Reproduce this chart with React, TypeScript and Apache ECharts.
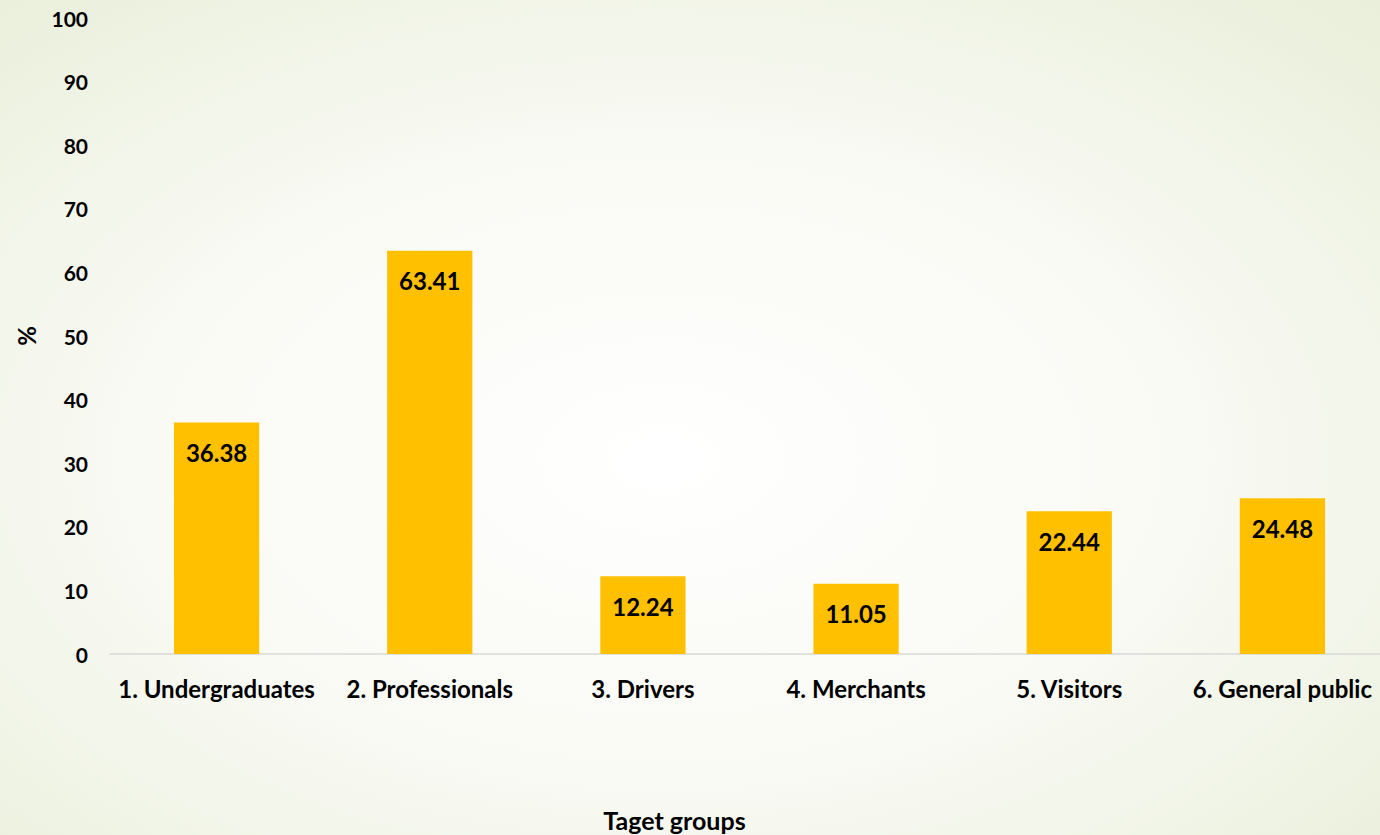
import React, { useEffect, useRef } from "react";
import * as echarts from "echarts";

const categories = [
  "1. Undergraduates",
  "2. Professionals",
  "3. Drivers",
  "4. Merchants",
  "5. Visitors",
  "6. General public",
];
const values = [36.38, 63.41, 12.24, 11.05, 22.44, 24.48];
const yTicks = { min: 0, max: 100, interval: 10 };

const FONT = "Lato, 'Open Sans', sans-serif";

export default function App() {
  const ref = useRef<HTMLDivElement>(null);
  useEffect(() => {
    document.body.style.margin = "0";
    const chart = echarts.init(ref.current!, undefined, { renderer: "svg" });
    chart.setOption({
      animation: false,
      backgroundColor: {
        type: "radial",
        x: 0.48,
        y: 0.55,
        r: 0.75,
        colorStops: [
          { offset: 0, color: "#ffffff" },
          { offset: 0.5, color: "#f9faf4" },
          { offset: 1, color: "#e9efda" },
        ],
      },
      grid: { left: 110, right: -9, top: 18, bottom: 181, outerBoundsMode: "none", containLabel: false },
      xAxis: {
        type: "category",
        data: categories,
        axisLine: { lineStyle: { color: "#d9d9d9", width: 1.5 } },
        axisTick: { show: false },
        axisLabel: {
          color: "#000",
          fontFamily: FONT,
          fontWeight: "bold",
          fontSize: 24,
          margin: 22,
          interval: 0,
        },
        name: "Taget groups",
        nameLocation: "middle",
        nameGap: 153,
        nameTextStyle: {
          color: "#000",
          fontFamily: FONT,
          fontWeight: "bold",
          fontSize: 25,
          padding: [0, 150, 0, 0],
        },
      },
      yAxis: {
        type: "value",
        min: yTicks.min,
        max: yTicks.max,
        interval: yTicks.interval,
        splitLine: { show: false },
        axisLine: { show: false },
        axisTick: { show: false },
        axisLabel: {
          color: "#000",
          fontFamily: FONT,
          fontWeight: "bold",
          fontSize: 21,
          margin: 22,
        },
        name: "%",
        nameLocation: "middle",
        nameGap: 72,
        nameRotate: 90,
        nameTextStyle: {
          color: "#000",
          fontFamily: FONT,
          fontWeight: "bold",
          fontSize: 24,
        },
      },
      series: [
        {
          type: "bar",
          data: values,
          barWidth: "40%",
          itemStyle: { color: "#ffc000" },
          label: {
            show: true,
            position: "insideTop",
            distance: 18,
            color: "#000",
            fontFamily: FONT,
            fontWeight: "bold",
            fontSize: 24,
            formatter: (p: any) => p.value.toFixed(2),
          },
        },
      ],
    });
    return () => chart.dispose();
  }, []);
  return <div ref={ref} style={{ width: 1380, height: 835, overflow: "hidden" }} />;
}
